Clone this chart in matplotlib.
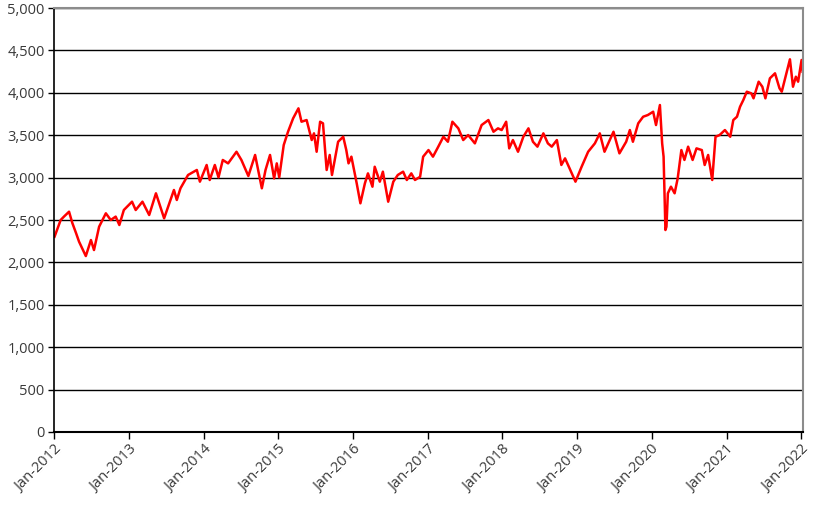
import pandas as pd
import matplotlib
matplotlib.use("Agg")
import matplotlib.pyplot as plt
import matplotlib.dates as mdates
from matplotlib.ticker import FuncFormatter

# values
dates = [
    "2012-01-02", "2012-02-01", "2012-02-17", "2012-03-13", "2012-03-29", "2012-04-16",
    "2012-05-01", "2012-06-03", "2012-06-28", "2012-07-13", "2012-08-07", "2012-09-09",
    "2012-10-03", "2012-10-27", "2012-11-14", "2012-12-06", "2013-01-15", "2013-02-02",
    "2013-03-07", "2013-04-09", "2013-05-12", "2013-06-21", "2013-08-08", "2013-08-22",
    "2013-09-09", "2013-10-16", "2013-11-28", "2013-12-13", "2014-01-15", "2014-01-30",
    "2014-02-24", "2014-03-14", "2014-04-04", "2014-04-30", "2014-06-10", "2014-07-04",
    "2014-08-07", "2014-09-09", "2014-10-12", "2014-10-30", "2014-11-21", "2014-12-11",
    "2014-12-24", "2015-01-05", "2015-01-27", "2015-02-17", "2015-03-14", "2015-04-09",
    "2015-04-24", "2015-05-19", "2015-06-13", "2015-06-24", "2015-07-07", "2015-07-24",
    "2015-08-07", "2015-08-25", "2015-09-09", "2015-09-20", "2015-10-20", "2015-11-14",
    "2015-11-29", "2015-12-10", "2015-12-24", "2016-01-19", "2016-02-06", "2016-02-28",
    "2016-03-14", "2016-04-05", "2016-04-16", "2016-05-11", "2016-05-26", "2016-06-21",
    "2016-07-16", "2016-08-07", "2016-09-02", "2016-09-20", "2016-10-12", "2016-10-30",
    "2016-11-24", "2016-12-09", "2017-01-04", "2017-01-26", "2017-02-21", "2017-03-18",
    "2017-04-09", "2017-05-01", "2017-05-30", "2017-06-23", "2017-07-17", "2017-08-19",
    "2017-09-21", "2017-10-24", "2017-11-18", "2017-12-10", "2017-12-28", "2018-01-19",
    "2018-02-03", "2018-02-21", "2018-03-18", "2018-04-13", "2018-05-08", "2018-05-30",
    "2018-06-21", "2018-07-20", "2018-08-11", "2018-08-30", "2018-09-24", "2018-10-16",
    "2018-11-03", "2018-11-25", "2018-12-24", "2019-01-23", "2019-02-24", "2019-03-29",
    "2019-04-22", "2019-05-15", "2019-06-10", "2019-06-28", "2019-07-27", "2019-08-29",
    "2019-09-16", "2019-10-01", "2019-10-27", "2019-11-20", "2019-12-13", "2020-01-08",
    "2020-01-22", "2020-02-10", "2020-02-21", "2020-02-28", "2020-03-08", "2020-03-13",
    "2020-03-20", "2020-04-04", "2020-04-22", "2020-05-07", "2020-05-25", "2020-06-09",
    "2020-06-27", "2020-07-19", "2020-08-07", "2020-09-02", "2020-09-16", "2020-10-03",
    "2020-10-23", "2020-11-08", "2020-11-28", "2020-12-24", "2021-01-19", "2021-02-03",
    "2021-02-21", "2021-03-08", "2021-03-24", "2021-04-10", "2021-05-02", "2021-05-13",
    "2021-06-07", "2021-06-25", "2021-07-10", "2021-08-01", "2021-08-26", "2021-09-17",
    "2021-09-28", "2021-10-23", "2021-11-07", "2021-11-22", "2021-12-06", "2021-12-17",
    "2022-01-03", "2022-01-08",
]
values = [
    2303, 2500, 2540, 2598, 2465, 2347,
    2244, 2075, 2264, 2146, 2421, 2579,
    2500, 2540, 2441, 2618, 2716, 2618,
    2716, 2559, 2815, 2520, 2854, 2736,
    2874, 3031, 3090, 2952, 3149, 2972,
    3149, 3003, 3208, 3168, 3305, 3208,
    3019, 3267, 2874, 3090, 3267, 2991,
    3168, 3003, 3384, 3541, 3699, 3817,
    3659, 3679, 3443, 3522, 3305, 3659,
    3640, 3090, 3267, 3031, 3423, 3482,
    3325, 3168, 3247, 2932, 2697, 2932,
    3050, 2893, 3128, 2952, 3070, 2716,
    2952, 3031, 3070, 2972, 3050, 2972,
    3010, 3247, 3325, 3247, 3365, 3482,
    3423, 3659, 3581, 3443, 3502, 3404,
    3620, 3679, 3541, 3581, 3561, 3659,
    3345, 3443, 3305, 3482, 3581, 3423,
    3365, 3522, 3404, 3365, 3443, 3149,
    3227, 3110, 2952, 3128, 3305, 3404,
    3522, 3305, 3443, 3541, 3286, 3423,
    3561, 3423, 3640, 3718, 3738, 3777,
    3620, 3856, 3404, 3247, 2382, 2421,
    2815, 2893, 2815, 2991, 3325, 3208,
    3365, 3208, 3345, 3325, 3149, 3267,
    2972, 3482, 3502, 3561, 3482, 3679,
    3718, 3836, 3915, 4013, 3994, 3935,
    4131, 4072, 3935, 4171, 4230, 4053,
    4013, 4249, 4395, 4072, 4190, 4131,
    4387, 4249,
]
tick_years = list(range(2012, 2023))

df = pd.DataFrame({"Date": pd.to_datetime(dates), "Value": values})

plt.rcParams['font.family'] = ['Open Sans', 'DejaVu Sans']

fig = plt.figure(figsize=(8.27, 5.11), dpi=100)
ax = fig.add_axes([0.0657, 0.1546, 0.9053, 0.8297])

ax.plot(df["Date"], df["Value"], color='#ff0000', linewidth=1.8)

ax.set_xlim(pd.Timestamp("2012-01-01"), pd.Timestamp("2022-01-10"))
ax.set_ylim(0, 5000)
ax.set_yticks(range(0, 5001, 500))
ax.yaxis.set_major_formatter(FuncFormatter(lambda v, p: f"{int(v):,}"))
ax.set_xticks([pd.Timestamp(f"{y}-01-01") for y in tick_years])
ax.xaxis.set_major_formatter(mdates.DateFormatter("%b-%Y"))

ax.grid(True, axis='y', color='black', linewidth=1.0)
ax.set_axisbelow(True)

for side in ['top', 'right']:
    ax.spines[side].set_color('#8c8c8c')
    ax.spines[side].set_linewidth(1.5)
ax.spines['left'].set_color('black')
ax.spines['left'].set_linewidth(1.2)
ax.spines['bottom'].set_color('black')
ax.spines['bottom'].set_linewidth(1.5)

ax.tick_params(axis='y', length=4, width=1, colors='black', labelcolor='#3a3a3a', labelsize=10.5, pad=3)
ax.tick_params(axis='x', length=5, width=1, colors='black', labelcolor='#3a3a3a', labelsize=10.5, pad=2)
for lbl in ax.get_xticklabels():
    lbl.set_rotation(45)
    lbl.set_ha('right')
    lbl.set_rotation_mode('anchor')

fig.savefig("out.png", dpi=100, facecolor='white')
